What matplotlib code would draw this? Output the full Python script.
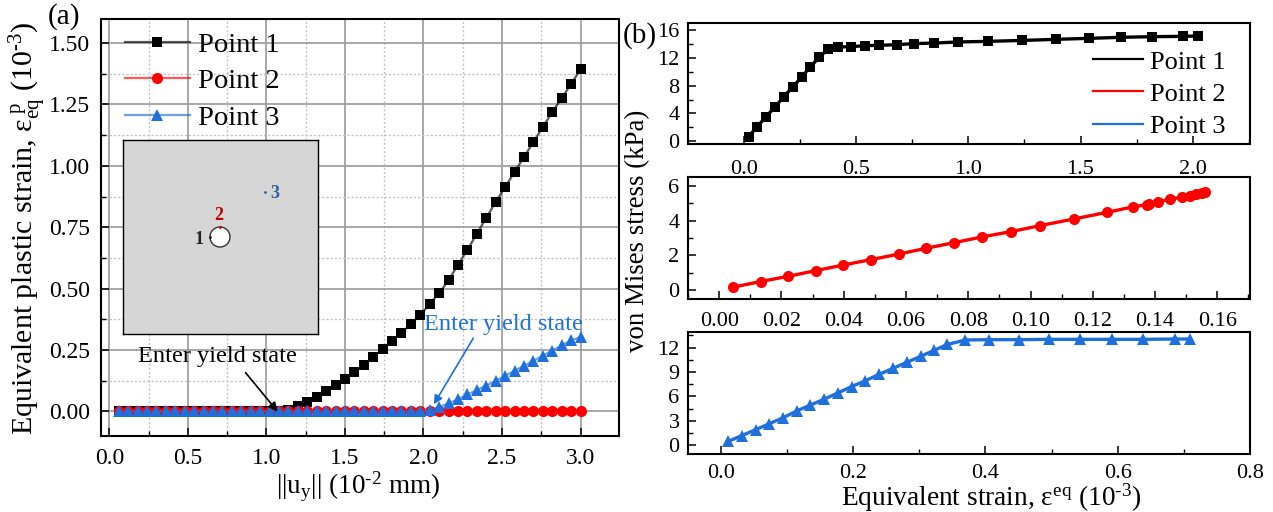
import matplotlib
matplotlib.use("Agg")
import matplotlib.pyplot as plt
from matplotlib.ticker import MultipleLocator, FormatStrFormatter
from matplotlib.patches import Circle

plt.rcParams.update({
    'font.family': ['Liberation Serif', 'DejaVu Serif'],
    'mathtext.fontset': 'custom',
    'mathtext.rm': 'Liberation Serif',
    'mathtext.it': 'Liberation Serif',
    'mathtext.bf': 'Liberation Serif:bold',
    'mathtext.default': 'rm',
})

W, H = 1273, 512
BLACK, RED, BLUE = '#000000', '#FF0000', '#1F6FDD'
SERIES_NAMES = ['Point 1', 'Point 2', 'Point 3']

# Panel (a)
a_x = [0.06, 0.12, 0.18, 0.24, 0.30, 0.36, 0.42, 0.48, 0.54, 0.60, 0.66, 0.72, 0.78, 0.84, 0.90, 0.96, 1.02,
       1.08, 1.14, 1.20, 1.26, 1.32, 1.38, 1.44, 1.50, 1.56, 1.62, 1.68, 1.74, 1.80, 1.86, 1.92, 1.98, 2.04,
       2.10, 2.16, 2.22, 2.28, 2.34, 2.40, 2.46, 2.52, 2.58, 2.64, 2.70, 2.76, 2.82, 2.88, 2.94, 3.00]
a_p1 = [0.0] * 18 + [0.005, 0.022, 0.039, 0.059, 0.083, 0.108, 0.132, 0.161, 0.189, 0.222, 0.254, 0.287, 0.320,
                     0.356, 0.393, 0.438, 0.482, 0.535, 0.597, 0.658, 0.724, 0.788, 0.853, 0.914, 0.975, 1.036,
                     1.097, 1.158, 1.219, 1.276, 1.333, 1.394]
a_p2 = [0.0] * 50
a_p3 = [0.0] * 33 + [0.004, 0.018, 0.033, 0.050, 0.069, 0.087, 0.105, 0.125, 0.145, 0.166, 0.186, 0.206, 0.227,
                     0.248, 0.269, 0.289, 0.303]

# Panel (b), top
b1_x = [0.019, 0.058, 0.097, 0.138, 0.177, 0.217, 0.258, 0.295, 0.334, 0.375, 0.418, 0.474, 0.538, 0.603, 0.680,
        0.756, 0.848, 0.954, 1.089, 1.240, 1.389, 1.537, 1.681, 1.819, 1.957, 2.026]
b1_y = [0.67, 2.11, 3.54, 4.98, 6.42, 7.86, 9.29, 10.73, 12.07, 13.32, 13.56, 13.60, 13.75, 13.80, 13.89,
        14.04, 14.13, 14.28, 14.37, 14.50, 14.66, 14.80, 14.95, 15.04, 15.09, 15.14]
# Panel (b), middle
b2_x = [0.0043, 0.0133, 0.0222, 0.0311, 0.0399, 0.0488, 0.0578, 0.0665, 0.0754, 0.0844, 0.0936, 0.1031, 0.1139,
        0.1245, 0.1328, 0.1373, 0.1382, 0.1410, 0.1449, 0.1487, 0.1511, 0.1531, 0.1550, 0.1561]
b2_y = [0.17, 0.50, 0.80, 1.13, 1.45, 1.76, 2.08, 2.41, 2.73, 3.06, 3.36, 3.71, 4.09, 4.47, 4.78, 4.91, 4.97,
        5.08, 5.22, 5.35, 5.43, 5.52, 5.60, 5.64]
# Panel (b), bottom
b3_x = [0.0114, 0.0317, 0.0526, 0.0735, 0.0944, 0.1146, 0.1355, 0.1558, 0.1767, 0.1976, 0.2185, 0.2394, 0.2603,
        0.2812, 0.3021, 0.3224, 0.3426, 0.3698, 0.406, 0.4503, 0.4959, 0.5434, 0.5909, 0.6377, 0.6865, 0.7099]
b3_y = [0.49, 1.19, 1.92, 2.66, 3.40, 4.22, 4.95, 5.65, 6.43, 7.21, 7.94, 8.72, 9.46, 10.20, 10.93, 11.67, 12.40,
        12.94, 12.98, 12.98, 13.02, 13.02, 13.02, 13.02, 13.06, 13.06]


def box(l, t, r, b):
    return [l / W, 1 - b / H, (r - l) / W, (b - t) / H]


def style(ax, xmaj, xmin, ymaj, ymin, size, xpad=9, ypad=6, sw=1.5):
    ax.xaxis.set_major_locator(MultipleLocator(xmaj))
    ax.xaxis.set_minor_locator(MultipleLocator(xmin))
    ax.yaxis.set_major_locator(MultipleLocator(ymaj))
    ax.yaxis.set_minor_locator(MultipleLocator(ymin))
    ax.tick_params(which='major', direction='in', length=6, width=1.1, labelsize=size)
    ax.tick_params(which='minor', direction='in', length=3.5, width=1.0)
    ax.tick_params(axis='x', which='major', pad=xpad)
    ax.tick_params(axis='y', which='major', pad=ypad)
    for s in ax.spines.values():
        s.set_linewidth(sw)


fig = plt.figure(figsize=(W / 100, H / 100), dpi=100)

# ---- panel a
ax = fig.add_axes(box(101.5, 19, 619, 436))
for y, c, m, ms, n in [(a_p1, BLACK, 's', 7.0, 0), (a_p2, RED, 'o', 8.0, 1), (a_p3, BLUE, '^', 9.0, 2)]:
    ax.plot(a_x, y, color=matplotlib.colors.to_rgba(c, 0.65), marker=m, ms=ms, mew=0, mfc=c, lw=1.6,
            label=SERIES_NAMES[n], zorder=3 + n, clip_on=False)
ax.set_xlim(-0.05, 3.245)
ax.set_ylim(-0.1, 1.598)
style(ax, 0.5, 0.25, 0.25, 0.125, 17, xpad=9, ypad=8)
ax.xaxis.set_major_formatter(FormatStrFormatter('%.1f'))
ax.yaxis.set_major_formatter(FormatStrFormatter('%.2f'))
ax.grid(which='major', color='#9a9a9a', lw=1.2, ls='-', zorder=0)
ax.grid(which='minor', color='#c4c4c4', lw=1.0, ls=(0, (1.5, 1.5)), zorder=0)
ax.set_axisbelow(True)
ax.legend(loc='upper left', bbox_to_anchor=(0.0253, 0.993), frameon=False, fontsize=20.5,
          handlelength=2.3, handletextpad=0.27, labelspacing=0.375, borderaxespad=0, borderpad=0.35)
ax.annotate('', xy=(1.071, 0.0), xytext=(0.867, 0.158), zorder=8,
            arrowprops=dict(arrowstyle='-|>', color=BLACK, lw=1.2, shrinkA=0, shrinkB=0, mutation_scale=13))
ax.annotate('', xy=(2.066, 0.029), xytext=(2.317, 0.298), zorder=8,
            arrowprops=dict(arrowstyle='-|>', color=BLUE, lw=1.2, shrinkA=0, shrinkB=0, mutation_scale=13))
ax.text(0.688, 0.223, 'Enter yield state', color=BLACK, fontsize=17.6, ha='center', va='center', zorder=8)
ax.text(2.51, 0.356, 'Enter yield state', color=BLUE, fontsize=17.6, ha='center', va='center', zorder=8)

# ---- inset sketch
ins = fig.add_axes(box(122.5, 140, 317.5, 334))
ins.set_facecolor('#D6D6D6')
ins.set_xlim(122.5, 317.5)
ins.set_ylim(334, 140)
ins.set_xticks([]); ins.set_yticks([])
for s in ins.spines.values():
    s.set_linewidth(1.0)
ins.add_patch(Circle((220, 237), 10, fc='white', ec='#333333', lw=1.0))
ins.plot([209.8], [237], 'o', ms=2, color='#222222', mew=0)
ins.plot([220], [227], 'o', ms=2, color='#C00000', mew=0)
ins.plot([264.5], [192], 'o', ms=2, color='#2C5F9E', mew=0)
ins.text(199, 239, '1', color='#222222', fontsize=13, fontweight='bold', ha='center', va='center')
ins.text(219, 215, '2', color='#C00000', fontsize=13, fontweight='bold', ha='center', va='center')
ins.text(275, 193, '3', color='#2C5F9E', fontsize=13, fontweight='bold', ha='center', va='center')

# ---- panel b
L, R = 687.8, 1250
a1 = fig.add_axes(box(L, 22.7, R, 144.3))
a1.plot(b1_x, b1_y, color=BLACK, marker='s', ms=6.8, mew=0, lw=2.4)
a1.set_xlim(-0.252, 2.256); a1.set_ylim(-0.43, 17.05)
style(a1, 0.5, 0.25, 4, 2, 16, xpad=11)
a1.xaxis.set_major_formatter(FormatStrFormatter('%.1f'))

a2 = fig.add_axes(box(L, 177, R, 299.3))
a2.plot(b2_x, b2_y, color=RED, marker='o', ms=8, mew=0, lw=2.4)
a2.set_xlim(-0.0101, 0.1705); a2.set_ylim(-0.52, 6.5)
style(a2, 0.02, 0.01, 2, 1, 16, xpad=9)
a2.xaxis.set_major_formatter(FormatStrFormatter('%.2f'))

a3 = fig.add_axes(box(L, 331.7, R, 454))
a3.plot(b3_x, b3_y, color=BLUE, marker='^', ms=8.6, mew=0, lw=2.4)
a3.set_xlim(-0.05, 0.80); a3.set_ylim(-1.07, 13.96)
style(a3, 0.2, 0.1, 3, 1.5, 16, xpad=7)
a3.xaxis.set_major_formatter(FormatStrFormatter('%.1f'))

handles = [plt.Line2D([], [], color=c, lw=1.6) for c in (BLACK, RED, BLUE)]
a1.legend(handles, SERIES_NAMES, loc='upper left', bbox_to_anchor=((1093 - L) / (R - L), 0.775), frameon=False,
          fontsize=19, handlelength=1.9, handletextpad=0.26, labelspacing=0.33, borderaxespad=0, borderpad=0)
for a_ in (a1, a2, a3):
    a_.set_zorder(2)

# ---- figure texts
fig.text(48 / W, 1 - 17 / H, '(a)', fontsize=21, ha='left', va='center')
fig.text(623 / W, 1 - 36 / H, '(b)', fontsize=21, ha='left', va='center')
fig.text(28 / W, 1 - 228 / H, r'Equivalent plastic strain, ε$^{\ p}_{eq}$ (10$^{\text{-}3}$)', fontsize=21.5,
         rotation=90, ha='center', va='center')
fig.text(358 / W, 1 - 487 / H, r'||u$_{y}$|| (10$^{\text{-}2}$ mm)', fontsize=19.5, ha='center', va='center')
fig.text(638 / W, 1 - 231 / H, 'von Mises stress (kPa)', fontsize=19.4, rotation=90, ha='center', va='center')
fig.text(991 / W, 1 - 498 / H, r'Equivalent strain, ε$^{eq}$ (10$^{\text{-}3}$)', fontsize=19.7, ha='center', va='center')

fig.savefig('out.png', dpi=100)
